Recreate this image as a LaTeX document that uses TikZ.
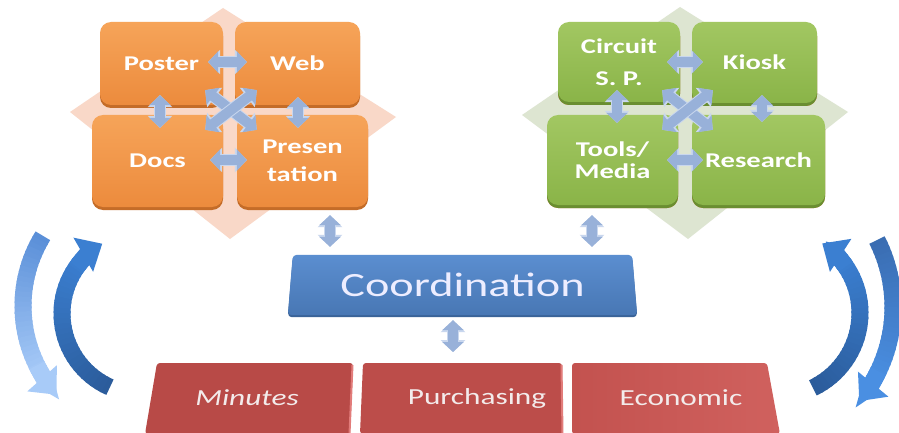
\documentclass[tikz,border=0pt]{standalone}
\usepackage{fontspec}
\newfontfamily\lab[FakeStretch=1.36]{Carlito}
\usetikzlibrary{arrows.meta,calc}
\definecolor{orT}{HTML}{F6A459}
\definecolor{orB}{HTML}{EC8B3D}
\definecolor{orD}{HTML}{C46C28}
\definecolor{grT}{HTML}{A2C762}
\definecolor{grB}{HTML}{8AB448}
\definecolor{grD}{HTML}{6A8E31}
\definecolor{pinkbg}{HTML}{F9D8C8}
\definecolor{greenbg}{HTML}{DDE5D1}
\definecolor{arrowbl}{HTML}{98B1D9}
\definecolor{arrowed}{HTML}{C9D7EE}
\definecolor{blT}{HTML}{5B8ED0}
\definecolor{blB}{HTML}{4877B4}
\definecolor{blD}{HTML}{3A6398}
\definecolor{rdA}{HTML}{B84A47}
\definecolor{rdB}{HTML}{BC4D4A}
\definecolor{rdC}{HTML}{C3524F}
\definecolor{rdE}{HTML}{D0615E}
\definecolor{rdHi}{HTML}{E27C7A}
\definecolor{redtxt}{HTML}{F3EBEB}
\definecolor{loT}{HTML}{5A8FD8}
\definecolor{loB}{HTML}{A8CBF8}
\definecolor{liT}{HTML}{3B7FD1}
\definecolor{liB}{HTML}{2B5C9B}
\definecolor{roT}{HTML}{3A6DB2}
\definecolor{roB}{HTML}{4A8FE2}
\pgfdeclarelayer{bg}
\pgfsetlayers{bg,main}
\newcommand\garc[8]{%
  \foreach \i in {0,...,29}{%
    \pgfmathsetmacro\sa{#4+(#5-#4)*\i/30}%
    \pgfmathsetmacro\ea{#4+(#5-#4)*(\i+1.4)/30}%
    \pgfmathtruncatemacro\pc{100-100*\i/29}%
    \draw[line width=17pt,color=#7!\pc!#8] ($(#1,#2)+(\sa:#3)$) arc[start angle=\sa,end angle=\ea,radius=#3];
  }%
  \pgfmathsetmacro\sb{#5-(#6-#5)*0.6}%
  \draw[line width=17pt,color=#8,-{Triangle[width=38pt,length=22pt]}] ($(#1,#2)+(\sb:#3)$) arc[start angle=\sb,end angle=#6,radius=#3];
}
\begin{document}
\begin{tikzpicture}[x=1pt,y=-1pt,
  obox/.style={rounded corners=11pt, top color=orT, bottom color=orB, text=white,
    font=\lab\bfseries\fontsize{21}{24}\selectfont, align=center, inner sep=0pt,
    preaction={fill=orD, transform canvas={yshift=-3pt}}},
  gbox/.style={obox, top color=grT, bottom color=grB, preaction={fill=grD, transform canvas={yshift=-3pt}}},
  dbl/.style={arrowbl, line width=10pt, {Triangle[width=21pt,length=10pt]}-{Triangle[width=21pt,length=10pt]},
    preaction={draw=arrowed, line width=12pt, {Triangle[width=24pt,length=12pt]}-{Triangle[width=24pt,length=12pt]}}},
  redlab/.style={text=redtxt, font=\lab\fontsize{23}{28}\selectfont},
]
\path[use as bounding box, clip] (0,0) rectangle (899,433);
\begin{pgfonlayer}{bg}
\fill[white] (0,0) rectangle (899,433);
\end{pgfonlayer}

% background diamonds
\fill[pinkbg] (223,8) -- (396,117) -- (230,239) -- (70,112) -- cycle;
\fill[greenbg] (680,7) -- (848,112) -- (688,239) -- (522,115) -- cycle;

% orange cluster
\node[obox, minimum width=123, minimum height=83] (poster) at (161.5,63.5) {Poster};
\node[obox, minimum width=125, minimum height=83] (web) at (297.5,63.5) {Web};
\node[obox, minimum width=131, minimum height=92] (docs) at (157.5,161) {Docs};
\node[obox, minimum width=131, minimum height=92] (presentation) at (302.5,161) {Presen\\[4pt]tation};

% green cluster
\node[gbox, minimum width=122, minimum height=80] (circuit) at (619,62) {Circuit\\[8pt]S. P.};
\node[gbox, minimum width=125, minimum height=81] (kiosk) at (754.5,62.5) {Kiosk};
\node[gbox, minimum width=131, minimum height=90] (tools) at (612.5,160) {Tools/\\[-2pt]Media};
\node[gbox, minimum width=133, minimum height=90] (research) at (758.5,160) {Research};

% orange cluster arrows
\draw[dbl] ([xshift=-15pt,yshift=1.5pt]poster.east) -- ([xshift=12pt,yshift=1.5pt]web.west);
\draw[dbl] ([xshift=-1.5pt,yshift=10pt]poster.south) -- ([xshift=2.5pt,yshift=-13pt]docs.north);
\draw[dbl] ([xshift=0.5pt,yshift=8pt]web.south) -- ([xshift=-4.5pt,yshift=-13pt]presentation.north);
\draw[dbl] ([xshift=-13pt,yshift=1pt]docs.east) -- ([xshift=10pt,yshift=1pt]presentation.west);
\draw[dbl] ($(poster.south east)+(-18,-15)$) -- ($(presentation.north west)+(20,15)$);
\draw[dbl] ($(web.south west)+(22,-15)$) -- ($(docs.north east)+(-18,15)$);

% green cluster arrows
\draw[dbl] ([xshift=-13pt]circuit.east) -- ([xshift=11pt,yshift=0.5pt]kiosk.west);
\draw[dbl] ([xshift=-2pt,yshift=12pt]circuit.south) -- ([xshift=4.5pt,yshift=-8pt]tools.north);
\draw[dbl] ([xshift=7.5pt,yshift=8pt]kiosk.south) -- ([xshift=3.5pt,yshift=-7pt]research.north);
\draw[dbl] ([xshift=-11pt]tools.east) -- ([xshift=11pt]research.west);
\draw[dbl] ($(circuit.south east)+(-18,-12)$) -- ($(research.north west)+(21,15)$);
\draw[dbl] ($(kiosk.south west)+(21,-13)$) -- ($(tools.north east)+(-16,15)$);

% coordination
\node[text=white!93!blue, font=\lab\fontsize{34}{40}\selectfont, minimum width=349, minimum height=60, inner sep=0pt] (coord) at (462.5,285) {Coordination};
\begin{pgfonlayer}{bg}
\fill[blD, rounded corners=4pt, transform canvas={yshift=-2pt}] ([xshift=5pt]coord.north west) -- ([xshift=-5pt]coord.north east) -- (coord.south east) -- (coord.south west) -- cycle;
\shade[top color=blT, bottom color=blB, rounded corners=4pt] ([xshift=5pt]coord.north west) -- ([xshift=-5pt]coord.north east) -- (coord.south east) -- (coord.south west) -- cycle;
\end{pgfonlayer}

% red boxes
\fill[rdA, rounded corners=3pt] (157,363) -- (353,363) -- (350,434) -- (145,434) -- cycle;
\draw[rdHi, line width=2pt] (352.5,365) -- (349.5,434);
\fill[rdB, rounded corners=3pt] (363,363) -- (562,363) -- (563,434) -- (360,434) -- cycle;
\draw[rdHi, line width=2pt] (561.5,365) -- (562.5,434);
\shade[left color=rdC, right color=rdE, rounded corners=3pt] (572,363) -- (767,363) -- (780,434) -- (572,434) -- cycle;
\node[redlab, font=\lab\itshape\fontsize{23}{28}\selectfont] (minutes) at (247,398) {Minutes};
\node[redlab] (purchasing) at (477,398) {Purchasing};
\node[redlab] (economic) at (681,398) {Economic};

% connectors to coordination
\draw[dbl] ([xshift=27.5pt,yshift=-8pt]presentation.south) -- ([xshift=-132.5pt,yshift=8pt]coord.north);
\draw[dbl] ([xshift=-20.5pt,yshift=-10pt]tools.south) -- ([xshift=129.5pt,yshift=8pt]coord.north);
\coordinate (pt) at (453,352);
\draw[dbl] ([xshift=-9.5pt,yshift=-5pt]coord.south) -- (pt);

% cycle arrows
\garc{157}{306}{134}{211.6}{148}{138.5}{loT}{loB}
\garc{142.6}{313.5}{80.6}{113.9}{224.5}{240}{liB}{liT}
\garc{777}{313}{83}{64.4}{-42.6}{-57}{liB}{liT}
\garc{745}{307}{148}{-26.9}{30.9}{39.5}{roT}{roB}
\end{tikzpicture}
\end{document}
